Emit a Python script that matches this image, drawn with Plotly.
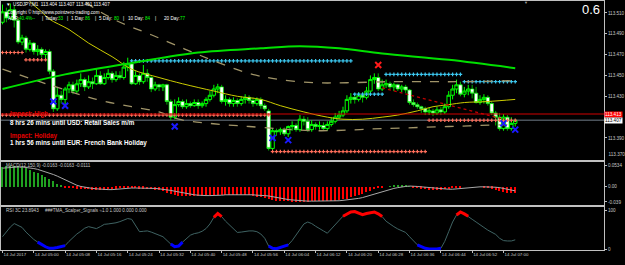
import plotly.graph_objects as go

W, H = 625, 265
PW = 607.0  # width of the plotting area in px (price scale on the right)

# ---------------- data: USDJPY M1 candles (14 Jul 2017, 04:52 .. 07:03) ----------------
opens = [113.501, 113.511, 113.505, 113.513, 113.503, 113.482, 113.486, 113.475, 113.481, 113.473,
         113.475, 113.470, 113.473, 113.454, 113.418, 113.431, 113.427, 113.437, 113.441, 113.435,
         113.442, 113.446, 113.439, 113.444, 113.442, 113.450, 113.442, 113.448, 113.452, 113.446,
         113.450, 113.448, 113.458, 113.461, 113.442, 113.450, 113.444, 113.452, 113.448, 113.437,
         113.441, 113.439, 113.441, 113.425, 113.410, 113.422, 113.425, 113.420, 113.423, 113.421,
         113.424, 113.421, 113.423, 113.427, 113.431, 113.437, 113.439, 113.425, 113.427, 113.423,
         113.426, 113.423, 113.427, 113.429, 113.426, 113.423, 113.427, 113.421, 113.416, 113.380,
         113.397, 113.396, 113.398, 113.394, 113.401, 113.402, 113.398, 113.408, 113.406, 113.398,
         113.403, 113.401, 113.402, 113.399, 113.403, 113.406, 113.410, 113.412, 113.416, 113.427,
         113.429, 113.427, 113.431, 113.429, 113.435, 113.446, 113.448, 113.437, 113.441, 113.442,
         113.439, 113.441, 113.437, 113.439, 113.436, 113.424, 113.422, 113.420, 113.418, 113.415,
         113.416, 113.414, 113.417, 113.415, 113.420, 113.431, 113.437, 113.441, 113.432, 113.435,
         113.437, 113.433, 113.424, 113.427, 113.429, 113.423, 113.414, 113.410, 113.399, 113.410,
         113.399, 113.404]
highs = [113.518, 113.515, 113.519, 113.517, 113.505, 113.489, 113.488, 113.484, 113.482, 113.479,
         113.477, 113.475, 113.475, 113.456, 113.439, 113.435, 113.439, 113.444, 113.444, 113.446,
         113.452, 113.448, 113.450, 113.448, 113.456, 113.454, 113.452, 113.456, 113.454, 113.454,
         113.454, 113.463, 113.467, 113.463, 113.454, 113.452, 113.460, 113.456, 113.450, 113.444,
         113.442, 113.442, 113.442, 113.427, 113.427, 113.429, 113.427, 113.427, 113.425, 113.427,
         113.427, 113.425, 113.429, 113.435, 113.441, 113.442, 113.441, 113.431, 113.429, 113.429,
         113.428, 113.430, 113.432, 113.431, 113.429, 113.429, 113.429, 113.423, 113.418, 113.399,
         113.399, 113.400, 113.400, 113.402, 113.406, 113.404, 113.412, 113.411, 113.410, 113.407,
         113.405, 113.406, 113.405, 113.406, 113.410, 113.414, 113.416, 113.420, 113.431, 113.433,
         113.431, 113.434, 113.434, 113.439, 113.450, 113.452, 113.452, 113.446, 113.446, 113.444,
         113.443, 113.442, 113.441, 113.441, 113.437, 113.427, 113.424, 113.421, 113.420, 113.419,
         113.418, 113.420, 113.420, 113.423, 113.435, 113.441, 113.446, 113.444, 113.439, 113.441,
         113.441, 113.439, 113.431, 113.432, 113.431, 113.425, 113.416, 113.414, 113.413, 113.412,
         113.410, 113.407]
lows = [113.499, 113.501, 113.503, 113.496, 113.480, 113.479, 113.472, 113.473, 113.470, 113.469,
        113.467, 113.465, 113.451, 113.415, 113.416, 113.423, 113.421, 113.433, 113.432, 113.433,
        113.439, 113.435, 113.437, 113.437, 113.441, 113.441, 113.441, 113.446, 113.443, 113.444,
        113.446, 113.446, 113.454, 113.441, 113.441, 113.441, 113.442, 113.444, 113.434, 113.435,
        113.435, 113.435, 113.422, 113.407, 113.408, 113.420, 113.418, 113.418, 113.419, 113.420,
        113.418, 113.419, 113.420, 113.425, 113.429, 113.433, 113.423, 113.421, 113.420, 113.420,
        113.420, 113.421, 113.423, 113.423, 113.420, 113.421, 113.418, 113.416, 113.378, 113.378,
        113.392, 113.393, 113.392, 113.391, 113.397, 113.396, 113.396, 113.402, 113.396, 113.396,
        113.398, 113.398, 113.397, 113.397, 113.401, 113.404, 113.408, 113.410, 113.414, 113.423,
        113.423, 113.425, 113.424, 113.427, 113.433, 113.442, 113.435, 113.435, 113.438, 113.437,
        113.435, 113.435, 113.434, 113.433, 113.422, 113.420, 113.418, 113.414, 113.412, 113.412,
        113.411, 113.412, 113.412, 113.413, 113.418, 113.427, 113.433, 113.430, 113.429, 113.431,
        113.428, 113.423, 113.422, 113.423, 113.421, 113.412, 113.402, 113.397, 113.397, 113.397,
        113.397, 113.401]
closes = [113.511, 113.505, 113.513, 113.503, 113.482, 113.486, 113.475, 113.481, 113.473, 113.475,
          113.470, 113.473, 113.454, 113.418, 113.431, 113.427, 113.437, 113.441, 113.435, 113.442,
          113.446, 113.439, 113.444, 113.442, 113.450, 113.442, 113.448, 113.452, 113.446, 113.450,
          113.448, 113.458, 113.461, 113.442, 113.450, 113.444, 113.452, 113.448, 113.437, 113.441,
          113.439, 113.441, 113.425, 113.410, 113.422, 113.425, 113.420, 113.423, 113.421, 113.424,
          113.421, 113.423, 113.427, 113.431, 113.437, 113.439, 113.425, 113.427, 113.423, 113.426,
          113.423, 113.427, 113.429, 113.426, 113.423, 113.427, 113.421, 113.418, 113.380, 113.397,
          113.396, 113.398, 113.394, 113.401, 113.402, 113.398, 113.408, 113.406, 113.398, 113.403,
          113.401, 113.402, 113.399, 113.403, 113.406, 113.410, 113.412, 113.416, 113.427, 113.429,
          113.427, 113.431, 113.429, 113.435, 113.446, 113.448, 113.437, 113.441, 113.442, 113.439,
          113.441, 113.437, 113.439, 113.436, 113.424, 113.422, 113.420, 113.418, 113.415, 113.416,
          113.414, 113.417, 113.415, 113.420, 113.431, 113.437, 113.441, 113.432, 113.435, 113.437,
          113.433, 113.424, 113.427, 113.429, 113.423, 113.414, 113.410, 113.399, 113.410, 113.399,
          113.404, 113.407]

ask_price = 113.413
bid_price = 113.407

# TMA channel (centre + dashed bands) and the green moving average, read at bar indices
tma_mid_bars = [5, 7, 10, 12, 17, 22, 28, 33, 40, 46, 54, 60, 66, 71, 77, 83, 87, 92, 97, 101, 106, 110, 114, 118, 124, 131]
tma_mid_vals = [113.532, 113.521, 113.511, 113.504, 113.494, 113.481, 113.468, 113.456, 113.448, 113.442, 113.435,
                113.430, 113.427, 113.421, 113.415, 113.410, 113.408, 113.408, 113.410, 113.412, 113.416, 113.420,
                113.422, 113.424, 113.425, 113.427]
tma_up_bars = [18, 21, 25, 30, 38, 50, 63, 71, 80, 88, 99, 109, 117, 131]
tma_up_vals = [113.532, 113.521, 113.511, 113.501, 113.489, 113.470, 113.452, 113.446, 113.443, 113.443,
               113.444, 113.444, 113.444, 113.445]
tma_lo_bars = [0, 12, 24, 33, 40, 45, 53, 63, 80, 97, 114, 122, 131]
tma_lo_vals = [113.456, 113.441, 113.427, 113.420, 113.415, 113.408, 113.404, 113.401, 113.397, 113.399,
               113.401, 113.402, 113.403]
ma_bars = [0, 16, 33, 50, 66, 76, 86, 97, 114, 131]
ma_vals = [113.437, 113.451, 113.462, 113.472, 113.476, 113.478, 113.476, 113.471, 113.465, 113.457]

# support / resistance dotted levels: (first bar, last bar, price)
salmon_levels = [(0, 5, 113.472), (6, 11, 113.465), (0, 68, 113.412), (69, 108, 113.377), (109, 131, 113.407)]
cyan_levels = [(33, 89, 113.464), (90, 97, 113.432), (98, 117, 113.451), (118, 131, 113.444)]
trend_bars = [97, 128]
trend_vals = [113.438, 113.408]

# scalper signals
buy_bars = [13, 16, 44, 69, 73, 128, 131]
buy_vals = [113.425, 113.421, 113.401, 113.390, 113.388, 113.404, 113.398]
sell_bars = [96]
sell_vals = [113.460]

# MACD(12,150,9): main (histogram) and signal
macd_hist = [0.050, 0.053, 0.053, 0.052, 0.051, 0.049, 0.046, 0.042, 0.038, 0.034,
             0.030, 0.025, 0.020, 0.014, 0.008, 0.003, -0.002, -0.004, -0.004, -0.005,
             -0.005, -0.006, -0.007, -0.008, -0.009, -0.009, -0.008, -0.007, -0.006, -0.005,
             -0.004, -0.003, -0.002, -0.003, -0.004, -0.005, -0.005, -0.006, -0.007, -0.008,
             -0.009, -0.012, -0.016, -0.019, -0.022, -0.023, -0.024, -0.024, -0.024, -0.024,
             -0.024, -0.023, -0.022, -0.021, -0.020, -0.020, -0.020, -0.020, -0.020, -0.020,
             -0.021, -0.021, -0.022, -0.022, -0.023, -0.025, -0.027, -0.029, -0.031, -0.033,
             -0.035, -0.036, -0.037, -0.037, -0.038, -0.038, -0.039, -0.039, -0.038, -0.037,
             -0.037, -0.036, -0.036, -0.036, -0.036, -0.035, -0.034, -0.032, -0.030, -0.027,
             -0.024, -0.021, -0.018, -0.014, -0.010, -0.006, -0.003, -0.001, 0.000, 0.001,
             0.002, 0.002, 0.002, 0.002, 0.001, -0.001, -0.003, -0.005, -0.007, -0.008,
             -0.009, -0.009, -0.008, -0.007, -0.006, -0.004, -0.002, -0.001, 0.000, 0.000,
             0.000, 0.000, 0.000, -0.001, -0.002, -0.005, -0.008, -0.011, -0.013, -0.015,
             -0.016, -0.0163]
macd_signal = [0.046, 0.047, 0.048, 0.049, 0.049, 0.049, 0.048, 0.047, 0.045, 0.043,
               0.040, 0.037, 0.034, 0.030, 0.026, 0.021, 0.016, 0.011, 0.007, 0.003,
               0.000, -0.002, -0.004, -0.005, -0.006, -0.007, -0.008, -0.008, -0.008, -0.007,
               -0.006, -0.005, -0.004, -0.004, -0.004, -0.004, -0.004, -0.004, -0.005, -0.005,
               -0.006, -0.007, -0.008, -0.010, -0.012, -0.014, -0.016, -0.018, -0.020, -0.021,
               -0.022, -0.023, -0.023, -0.023, -0.023, -0.022, -0.022, -0.021, -0.021, -0.020,
               -0.020, -0.020, -0.020, -0.021, -0.021, -0.022, -0.022, -0.023, -0.024, -0.026,
               -0.028, -0.029, -0.031, -0.033, -0.034, -0.035, -0.036, -0.037, -0.037, -0.037,
               -0.037, -0.037, -0.037, -0.037, -0.036, -0.036, -0.036, -0.035, -0.034, -0.033,
               -0.032, -0.030, -0.028, -0.025, -0.022, -0.019, -0.016, -0.013, -0.010, -0.007,
               -0.005, -0.003, -0.001, 0.000, 0.001, 0.001, 0.000, -0.001, -0.002, -0.003,
               -0.004, -0.005, -0.006, -0.007, -0.007, -0.007, -0.006, -0.005, -0.004, -0.003,
               -0.002, -0.001, -0.001, -0.001, -0.001, -0.001, -0.002, -0.003, -0.005, -0.007,
               -0.009, -0.0111]

# RSI 3C
rsi = [32, 45, 57, 66, 62, 56, 44, 34, 25, 18,
       11, 6, 2, 2, 4, 6, 9, 20, 30, 39,
       46, 54, 58, 56, 53, 58, 64, 65, 66, 68,
       71, 76, 79, 77, 62, 45, 46, 47, 44, 41,
       36, 32, 22, 13, 6, 8, 18, 28, 36, 40,
       42, 46, 53, 65, 82, 92, 84, 72, 63, 54,
       43, 44, 46, 47, 47, 45, 39, 28, 8, 2,
       1, 5, 9, 11, 22, 36, 50, 65, 70, 66,
       59, 52, 47, 41, 52, 62, 74, 85, 91, 96,
       97, 93, 89, 92, 95, 96, 91, 84, 72, 64,
       58, 52, 48, 43, 32, 22, 11, 6, 2, 0.5,
       0.3, 0.5, 2, 20, 45, 70, 88, 96, 91, 85,
       77, 70, 62, 56, 49, 44, 38, 28, 22, 21,
       21, 23.9]

time_tick_bars = [0, 8, 16, 24, 32, 40, 48, 56, 64, 72, 80, 88, 96, 104, 112, 120, 128]
time_labels = ["14 Jul 2017", "14 Jul 05:00", "14 Jul 05:08", "14 Jul 05:16", "14 Jul 05:24",
               "14 Jul 05:32", "14 Jul 05:40", "14 Jul 05:48", "14 Jul 05:56", "14 Jul 06:04",
               "14 Jul 06:12", "14 Jul 06:20", "14 Jul 06:28", "14 Jul 06:36", "14 Jul 06:44",
               "14 Jul 06:52", "14 Jul 07:00"]
price_ticks = [113.51, 113.49, 113.47, 113.45, 113.43, 113.39]

# ---------------- figure ----------------
FONT = "Liberation Sans"
AX = "#c0c0c0"
n = len(closes)
bars = list(range(n))

def fy(px):
    return 1 - px / H

def fx(px):
    return px / PW

fig = go.Figure()

# dotted levels
for (a, b, p) in salmon_levels:
    xs = list(range(a, b + 1))
    fig.add_trace(go.Scatter(x=xs, y=[p] * len(xs), mode="markers", xaxis="x", yaxis="y",
                             marker=dict(symbol="cross", size=3.0, color="#ff6e5a", line=dict(width=0)),
                             hoverinfo="skip", showlegend=False))
for (a, b, p) in cyan_levels:
    xs = list(range(a, b + 1))
    fig.add_trace(go.Scatter(x=xs, y=[p] * len(xs), mode="markers", xaxis="x", yaxis="y",
                             marker=dict(symbol="cross", size=3.0, color="#3cc8f0", line=dict(width=0)),
                             hoverinfo="skip", showlegend=False))

# channel lines
fig.add_trace(go.Scatter(x=tma_up_bars, y=tma_up_vals, mode="lines", xaxis="x", yaxis="y",
                         line=dict(color="#a09468", width=1.3, dash="dash", shape="spline"),
                         hoverinfo="skip", showlegend=False))
fig.add_trace(go.Scatter(x=tma_lo_bars, y=tma_lo_vals, mode="lines", xaxis="x", yaxis="y",
                         line=dict(color="#a09468", width=1.3, dash="dash", shape="spline"),
                         hoverinfo="skip", showlegend=False))
fig.add_trace(go.Scatter(x=tma_mid_bars, y=tma_mid_vals, mode="lines", xaxis="x", yaxis="y",
                         line=dict(color="#cccc00", width=1, shape="spline"),
                         hoverinfo="skip", showlegend=False))
fig.add_trace(go.Scatter(x=ma_bars, y=ma_vals, mode="lines", xaxis="x", yaxis="y",
                         line=dict(color="#00e000", width=2, shape="spline"),
                         hoverinfo="skip", showlegend=False))
fig.add_trace(go.Scatter(x=trend_bars, y=trend_vals, mode="lines", xaxis="x", yaxis="y",
                         line=dict(color="#c00000", width=1.2, dash="dot"),
                         hoverinfo="skip", showlegend=False))

# candles
fig.add_trace(go.Candlestick(x=bars, open=opens, high=highs, low=lows, close=closes,
                             xaxis="x", yaxis="y", whiskerwidth=0,
                             increasing=dict(line=dict(color="#00ff00", width=1), fillcolor="#000000"),
                             decreasing=dict(line=dict(color="#00ff00", width=0.7), fillcolor="#ffffff"),
                             hoverinfo="skip", showlegend=False))

# signals
fig.add_trace(go.Scatter(x=buy_bars, y=buy_vals, mode="markers", xaxis="x", yaxis="y",
                         marker=dict(symbol="x-thin", size=6, line=dict(color="#1a1aff", width=2)),
                         hoverinfo="skip", showlegend=False))
fig.add_trace(go.Scatter(x=sell_bars, y=sell_vals, mode="markers", xaxis="x", yaxis="y",
                         marker=dict(symbol="x-thin", size=6, line=dict(color="#ff1a1a", width=2)),
                         hoverinfo="skip", showlegend=False))

# MACD
fig.add_trace(go.Bar(x=bars, y=macd_hist, xaxis="x2", yaxis="y2", width=0.32,
                     marker=dict(color=["#20a020" if v > 0 else "#ff0000" for v in macd_hist], line=dict(width=0)),
                     hoverinfo="skip", showlegend=False))
fig.add_trace(go.Scatter(x=bars, y=macd_signal, mode="lines", xaxis="x2", yaxis="y2",
                         line=dict(color="#a8a8a8", width=1), hoverinfo="skip", showlegend=False))

# RSI
fig.add_trace(go.Scatter(x=bars, y=rsi, mode="lines", xaxis="x3", yaxis="y3",
                         line=dict(color="#3f6363", width=1), hoverinfo="skip", showlegend=False))
rsi_hi = [v if v > 80 else None for v in rsi]
rsi_lo = [v if v < 20 else None for v in rsi]
fig.add_trace(go.Scatter(x=bars, y=rsi_hi, mode="lines", xaxis="x3", yaxis="y3", connectgaps=False,
                         line=dict(color="#ff0000", width=3), hoverinfo="skip", showlegend=False))
fig.add_trace(go.Scatter(x=bars, y=rsi_lo, mode="lines", xaxis="x3", yaxis="y3", connectgaps=False,
                         line=dict(color="#0000ff", width=3), hoverinfo="skip", showlegend=False))

# price lines
fig.add_shape(type="line", xref="paper", x0=0, x1=1, yref="y", y0=bid_price, y1=bid_price,
              line=dict(color="#4a525a", width=1.5), layer="below")
fig.add_shape(type="line", xref="paper", x0=0, x1=1, yref="y", y0=ask_price, y1=ask_price,
              line=dict(color="#d00000", width=1), layer="above")

xr = [-0.38, 153.68]
axis_common = dict(showgrid=False, zeroline=False, showline=True, mirror=True, linecolor=AX, linewidth=1,
                   range=xr, fixedrange=True)
yfont = dict(family=FONT, size=4.6, color="#c8c8c8")

fig.update_layout(
    width=W, height=H, margin=dict(l=0, r=W - PW, t=0, b=0),
    paper_bgcolor="#000000", plot_bgcolor="#000000",
    boxgap=0.12, boxgroupgap=0.0, bargap=0,
    showlegend=False,
    xaxis=dict(domain=[0, 1], anchor="y", showticklabels=False, ticks="", rangeslider=dict(visible=False),
               **axis_common),
    xaxis2=dict(domain=[0, 1], anchor="y2", showticklabels=False, ticks="", **axis_common),
    xaxis3=dict(domain=[0, 1], anchor="y3", tickmode="array", tickvals=time_tick_bars, ticktext=time_labels,
                ticks="outside", ticklen=2, tickcolor=AX, ticklabelposition="outside right", tickangle=0,
                tickfont=dict(family=FONT, size=4.4, color="#c8c8c8"), **axis_common),
    yaxis=dict(domain=[fy(161), fy(1)], range=[113.3691, 113.5214], side="right", anchor="x",
               tickmode="array", tickvals=price_ticks, ticktext=["%.3f" % v for v in price_ticks],
               ticks="outside", ticklen=2, tickcolor=AX, tickfont=yfont,
               showgrid=False, zeroline=False, showline=True, mirror=True, linecolor=AX, fixedrange=True),
    yaxis2=dict(domain=[fy(207), fy(163)], range=[-0.0478, 0.0621], side="right", anchor="x2",
                tickmode="array", tickvals=[0.0534, 0.0, -0.039], ticktext=["0.0534", "0.00", "-0.039"],
                ticks="outside", ticklen=2, tickcolor=AX, tickfont=yfont,
                showgrid=False, zeroline=False, showline=True, mirror=True, linecolor=AX, fixedrange=True),
    yaxis3=dict(domain=[fy(252), fy(209)], range=[-2.6, 107.7], side="right", anchor="x3",
                tickmode="array", tickvals=[100, 0], ticktext=["100", "0"],
                ticks="outside", ticklen=2, tickcolor=AX, tickfont=yfont,
                showgrid=False, zeroline=False, showline=True, mirror=True, linecolor=AX, fixedrange=True),
)

ann = []

def txt(x, y, s, color="#ffffff", size=4.6, anchor="left", bold=False, bg=None, xref="paper", yref="paper"):
    d = dict(x=x, y=y, xref=xref, yref=yref, text=("<b>%s</b>" % s) if bold else s, showarrow=False,
             xanchor=anchor, yanchor="middle", font=dict(family=FONT, size=size, color=color))
    if bg:
        d.update(bgcolor=bg, borderpad=0)
    ann.append(d)

# header
txt(fx(3), fy(5), "▼  USDJPY,M1  113.404 113.407 113.401 113.407")
txt(fx(4), fy(12), "Copyright © http://www.pointzero-trading.com")
adr_parts = [(5, "ADR:", "#ffffff"), (16, "40.4%--", "#00ff00"), (39, "|", "#ffffff"),
             (42, "Today:", "#ffffff"), (55, "33", "#00ff00"), (64, "|", "#ffffff"),
             (68, "1 Day:", "#ffffff"), (83, "86", "#00ff00"), (93, "|", "#ffffff"),
             (97, "5 Day:", "#ffffff"), (112, "80", "#00ff00"), (121, "|", "#ffffff"),
             (126, "10 Day:", "#ffffff"), (143, "84", "#00ff00"), (153, "|", "#ffffff"),
             (162, "20 Day:", "#ffffff"), (178, "77", "#00ff00")]
for (xp, s, c) in adr_parts:
    txt(fx(xp), fy(19), s, color=c)

# spread
txt(fx(605), fy(10), "0.6", size=13, anchor="right")
txt(fx(528), fy(3), "▼", color="#a0a0a0", size=4, anchor="center")

# news
txt(fx(7), fy(115), "Impact: High", color="#e00000", size=6.3, bold=True)
txt(fx(7), fy(123), "8 hrs 26 mins until USD: Retail Sales m/m", size=6.3, bold=True)
txt(fx(7), fy(137), "Impact: Holiday", color="#e00000", size=6.3, bold=True)
txt(fx(7), fy(144), "1 hrs 56 mins until EUR: French Bank Holiday", size=6.3, bold=True)

# indicator labels
txt(fx(3), fy(167), "MACD(12,150,9) -0.0163 -0.0163 -0.0111", color="#c8c8c8")
txt(fx(3), fy(212), "RSI 3C 23.8943", color="#c8c8c8")
txt(fx(42), fy(212), "###TMA_Scalper_Signals ≈1.0 1.000 0.000 0.000", color="#c8c8c8")

# price boxes on the scale
ann.append(dict(x=1.0, y=ask_price, xref="paper", yref="y", text="113.413", showarrow=False,
                xanchor="left", yanchor="middle", bgcolor="#ff0000", borderpad=0,
                font=dict(family=FONT, size=4.6, color="#ffffff")))
ann.append(dict(x=1.0, y=bid_price, xref="paper", yref="y", text="113.407", showarrow=False,
                xanchor="left", yanchor="middle", bgcolor="#ffffff", borderpad=0,
                font=dict(family=FONT, size=4.6, color="#000000")))
ann.append(dict(x=1.0, y=fy(156), xref="paper", yref="paper", text="  113.370", showarrow=False,
                xanchor="left", yanchor="middle", font=yfont))

fig.update_layout(annotations=ann)
fig.write_html("out.html")
